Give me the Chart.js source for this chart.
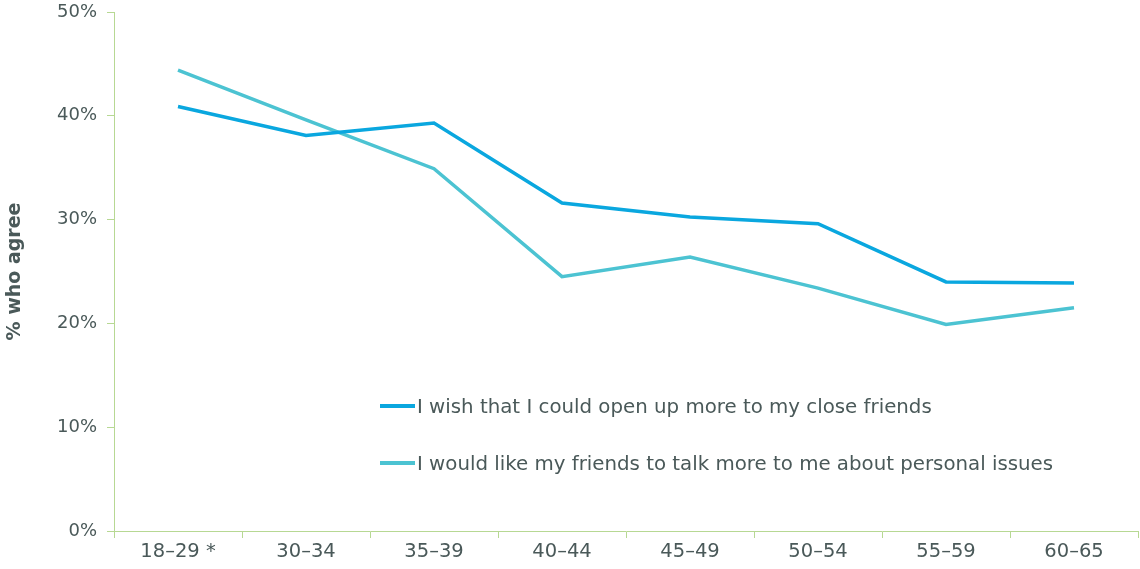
<!DOCTYPE html>
<html>
<head>
<meta charset="utf-8">
<script src="https://cdn.jsdelivr.net/npm/chart.js@4.4.1/dist/chart.umd.min.js"></script>
<style>
  html, body { margin: 0; padding: 0; background: #fff; }
  #wrap { position: relative; width: 1140px; height: 569px; }
  #legend { position: absolute; left: 380px; top: 392px; font-family: "DejaVu Sans", Verdana, sans-serif; font-size: 19.8px; color: #4a5959; }
  #legend .item { display: flex; align-items: center; height: 28px; margin-bottom: 29px; white-space: nowrap; }
  #legend .swatch { display: inline-block; width: 35px; height: 3.5px; margin-right: 2px; }
</style>
</head>
<body>
<div id="wrap">
  <canvas id="canvas" width="1140" height="569"></canvas>
  <div id="legend"></div>
</div>
<script>
const ageGroups = ['18–29 *', '30–34', '35–39', '40–44', '45–49', '50–54', '55–59', '60–65'];
const openUpMore = [40.9, 38.1, 39.3, 31.6, 30.25, 29.6, 24.0, 23.9];
const friendsTalkMore = [44.4, 39.6, 34.9, 24.5, 26.4, 23.4, 19.9, 21.5];
const seriesNames = [
    'I wish that I could open up more to my close friends',
    'I would like my friends to talk more to me about personal issues'
];
const seriesColors = ['#0aa7df', '#4cc3d2'];

const textColor = '#4a5959';
const axisColor = '#b7d893';
const fontFamily = '"DejaVu Sans", Verdana, sans-serif';

const ctx = document.getElementById('canvas').getContext('2d');
const chart = new Chart(ctx, {
    type: 'line',
    data: {
        labels: ageGroups,
        datasets: [openUpMore, friendsTalkMore].map((values, i) => ({
            label: seriesNames[i],
            data: values,
            borderColor: seriesColors[i],
            backgroundColor: seriesColors[i],
            borderWidth: 3.5,
            pointRadius: 0,
            tension: 0,
            fill: false
        }))
    },
    options: {
        responsive: false,
        animation: false,
        layout: { padding: { top: 12, right: 2, left: 0, bottom: 0 } },
        plugins: {
            legend: { display: false },
            tooltip: { enabled: false }
        },
        scales: {
            x: {
                offset: true,
                grid: {
                    offset: true,
                    drawOnChartArea: false,
                    drawTicks: true,
                    tickLength: 7,
                    color: axisColor
                },
                border: { color: axisColor, width: 1 },
                ticks: {
                    color: textColor,
                    font: { family: fontFamily, size: 19.5 },
                    padding: 2,
                    maxRotation: 0
                },
                afterFit: (scale) => { scale.height = 38; }
            },
            y: {
                min: 0,
                max: 50,
                ticks: {
                    stepSize: 10,
                    color: textColor,
                    font: { family: fontFamily, size: 18 },
                    padding: 10,
                    callback: (v) => v + '%'
                },
                grid: {
                    drawOnChartArea: false,
                    drawTicks: true,
                    tickLength: 7,
                    color: axisColor
                },
                border: { color: axisColor, width: 1 },
                title: {
                    display: true,
                    text: '% who agree',
                    color: textColor,
                    font: { family: fontFamily, size: 19, weight: 'bold' },
                    padding: { top: 4, bottom: 16 }
                },
                afterFit: (scale) => {
                    scale.width = 114;
                    scale.paddingTop = 0;
                    scale.paddingBottom = 0;
                }
            }
        }
    }
});

// html legend built from the datasets
const legendEl = document.getElementById('legend');
chart.data.datasets.forEach((ds) => {
    const item = document.createElement('div');
    item.className = 'item';
    const sw = document.createElement('span');
    sw.className = 'swatch';
    sw.style.background = ds.borderColor;
    const label = document.createElement('span');
    label.textContent = ds.label;
    item.appendChild(sw);
    item.appendChild(label);
    legendEl.appendChild(item);
});
</script>
</body>
</html>
